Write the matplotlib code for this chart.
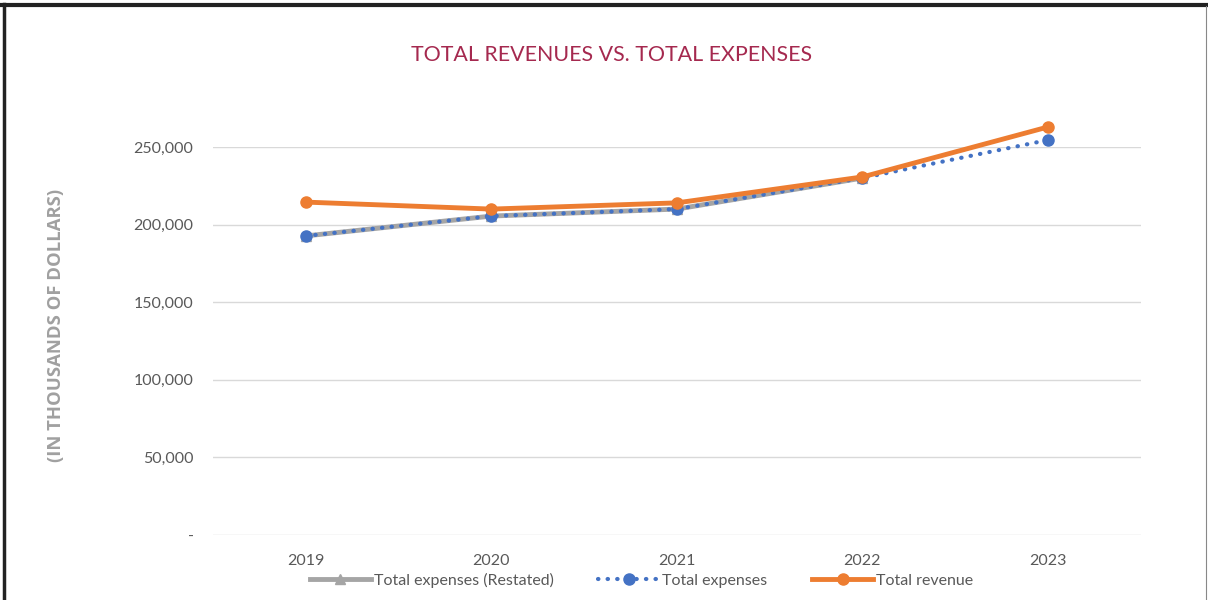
import numpy as np
import matplotlib
matplotlib.use("Agg")
import matplotlib.pyplot as plt
from matplotlib.lines import Line2D
from matplotlib.ticker import FuncFormatter

years = ["2019", "2020", "2021", "2022", "2023"]
expenses_restated = [192700, 205500, 210000, 230000, np.nan]
expenses = [192700, 205500, 210000, 230000, 254500]
revenue = [214500, 210000, 214000, 230700, 262900]

plt.rcParams['font.family'] = ['Lato', 'DejaVu Sans']

fig = plt.figure(figsize=(12.08, 6), dpi=100)
ax = fig.add_axes([0.1763, 0.1083, 0.768, 0.6467])

x = np.arange(len(years))
ax.plot(x, expenses_restated, color='#A5A5A5', lw=3.5, marker='^', ms=7,
        label='Total expenses (Restated)', clip_on=False, zorder=2)
ax.plot(x, expenses, color='#4472C4', lw=3, ls=(0, (0.1, 2.2)), marker='o', ms=8,
        dash_capstyle='round', label='Total expenses', clip_on=False, zorder=3)
ax.plot(x, revenue, color='#ED7D31', lw=3.5, marker='o', ms=8,
        label='Total revenue', clip_on=False, zorder=4)

ax.set_xlim(-0.5, 4.5)
ax.set_ylim(0, 250000)
ax.set_yticks(np.arange(0, 250001, 50000))
ax.yaxis.set_major_formatter(FuncFormatter(lambda v, p: '-' if v == 0 else f'{int(v):,}'))
ax.set_xticks(x)
ax.set_xticklabels(years)
ax.grid(axis='y', color='#D9D9D9', lw=1)
ax.set_axisbelow(True)
for s in ax.spines.values():
    s.set_visible(False)
ax.tick_params(length=0, labelsize=11.5, colors='#595959', pad=14)
ax.tick_params(axis='x', pad=14)

ax.set_ylabel('(IN THOUSANDS OF DOLLARS)', fontsize=13.3, fontweight='bold',
              family=['Open Sans', 'DejaVu Sans'], color='#A0A0A0')
ax.yaxis.set_label_coords(-0.159, 0.541)

fig.text(0.5066, 0.908, 'TOTAL REVENUES VS. TOTAL EXPENSES', ha='center', va='center',
         fontsize=15.4, color='#A5294F')

leg = ax.legend(loc='center', bbox_to_anchor=(0.462, -0.116), ncol=3, frameon=False,
                fontsize=11.5, handlelength=3.8, columnspacing=2.8, handletextpad=0.2)
for t in leg.get_texts():
    t.set_color('#595959')

# border
fig.add_artist(Line2D([0.003, 0.003], [0, 0.993], color='#222222', lw=2.5))
fig.add_artist(Line2D([0.002, 1], [0.992, 0.992], color='#222222', lw=3))
fig.add_artist(Line2D([0.9985, 0.9985], [0, 0.99], color='#888888', lw=0.8))

fig.savefig('out.png', dpi=100)
